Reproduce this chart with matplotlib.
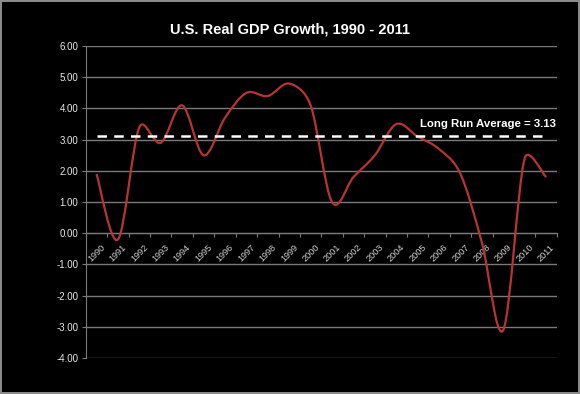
import matplotlib; matplotlib.use('Agg')
import matplotlib.pyplot as plt
import numpy as np
from matplotlib.path import Path
from matplotlib.patches import PathPatch

plt.rcParams['font.family'] = ['Liberation Sans', 'DejaVu Sans']

years = [str(y) for y in range(1990, 2012)]
growth = [1.9, -0.2, 3.4, 2.9, 4.1, 2.5, 3.7, 4.5, 4.4, 4.8, 4.1,
          1.0, 1.8, 2.5, 3.5, 3.1, 2.7, 1.9, -0.3, -3.1, 2.4, 1.8]
long_run_avg = 3.13
yticks = [6, 5, 4, 3, 2, 1, 0, -1, -2, -3, -4]
ytick_labels = ['%.2f' % v for v in yticks]

fig = plt.figure(figsize=(5.8, 3.94), dpi=100, facecolor='black',
                 edgecolor='#8a8a8a', linewidth=1.5)
ax = fig.add_axes([0.148, 0.0914, 0.812, 0.7916])
ax.set_facecolor('black')
ax.set_xlim(-0.5, len(years) - 0.5)
ax.set_ylim(-4, 6)

# Excel-style smoothed line: bezier through the points, control arms
# worked out in screen space and capped at half the segment length
xs = list(range(len(growth)))
P = ax.transData.transform(np.column_stack([xs, growth]))
n = len(P)
verts = [P[0]]
codes = [Path.MOVETO]
for i in range(n - 1):
    p0, p1, p2, p3 = P[max(i - 1, 0)], P[i], P[i + 1], P[min(i + 2, n - 1)]
    d12 = np.hypot(*(p2 - p1))
    d02 = np.hypot(*(p2 - p0))
    d13 = np.hypot(*(p3 - p1))
    f1 = 1 / 6 if d02 / 6 < d12 / 2 else d12 / 2 / d02
    f2 = 1 / 6 if d13 / 6 < d12 / 2 else d12 / 2 / d13
    verts += [p1 + (p2 - p0) * f1, p2 - (p3 - p1) * f2, p2]
    codes += [Path.CURVE4] * 3
verts = ax.transData.inverted().transform(np.array(verts))
ax.add_patch(PathPatch(Path(verts, codes), facecolor='none',
                       edgecolor='#b83434', lw=1.6, zorder=3))

ax.plot([xs[0], xs[-1]], [long_run_avg, long_run_avg], color='white',
        lw=1.8, dashes=(3.8, 2.9), zorder=4)
ax.text(21.45, long_run_avg + 0.22, 'Long Run Average = %.2f' % long_run_avg,
        color='white', fontsize=8.2, fontweight='bold', ha='right', va='bottom')

ax.set_yticks(yticks)
ax.set_yticklabels(ytick_labels)
ax.grid(axis='y', color='#7a7a7a', lw=1)
ax.set_axisbelow(True)

ax.tick_params(axis='x', which='minor', length=0, pad=7, labelsize=6.6,
               labelcolor='#d0d0d0', labelrotation=45)
ax.tick_params(axis='x', which='major', length=3, color='#7a7a7a', direction='out')
ax.tick_params(axis='y', length=3, color='#7a7a7a', labelsize=7,
               labelcolor='#e8e8e8', pad=2.5)
ax.set_xticks([i - 0.5 for i in range(len(years) + 1)])
ax.set_xticklabels([''] * (len(years) + 1))
ax.set_xticks(xs, minor=True)
ax.set_xticklabels(years, minor=True, ha='right', va='center',
                   rotation_mode='anchor')

for s in ['top', 'right']:
    ax.spines[s].set_visible(False)
ax.spines['bottom'].set_position(('data', 0))
ax.spines['bottom'].set_color('#7a7a7a')
ax.spines['left'].set_color('#7a7a7a')

fig.text(0.5, 0.925, 'U.S. Real GDP Growth, 1990 - 2011', color='white',
         fontsize=10.5, fontweight='bold', ha='center', va='center')

fig.savefig('out.png', dpi=100, facecolor='black', edgecolor='#8a8a8a')
